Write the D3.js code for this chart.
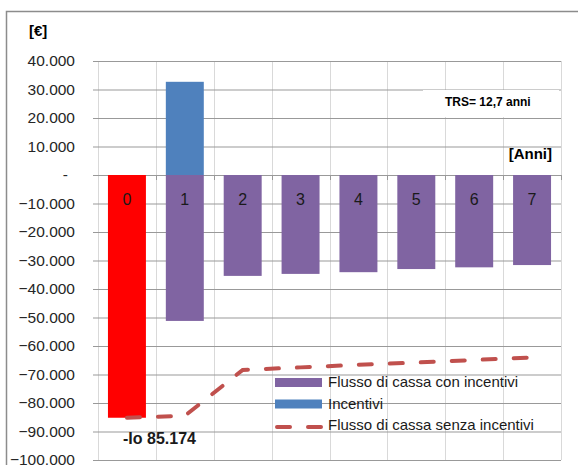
<!DOCTYPE html>
<html>
<head>
<meta charset="utf-8">
<script src="https://cdn.jsdelivr.net/npm/d3@7/dist/d3.min.js"></script>
<style>
  html, body { margin: 0; padding: 0; background: #fff; }
  svg { display: block; font-family: "Liberation Sans", Arial, sans-serif; }
</style>
</head>
<body>
<svg id="chart" width="578" height="465"></svg>
<script>
// Anni di esercizio
const categories = ["0", "1", "2", "3", "4", "5", "6", "7"];
// Flusso di cassa con incentivi (anno 0 = investimento iniziale Io)
const flussoConIncentivi = [-85174, -51200, -35400, -34700, -34100, -33000, -32400, -31600];
// Incentivi ricevuti
const incentivi = [0, 32700, 0, 0, 0, 0, 0, 0];
// Flusso di cassa cumulato senza incentivi
const flussoSenzaIncentivi = [-85174, -84500, -68400, -67500, -66600, -65800, -64900, -64000];
// Tick dell'asse verticale
const yTicks = [40000, 30000, 20000, 10000, 0, -10000, -20000, -30000, -40000, -50000,
                -60000, -70000, -80000, -90000, -100000];
const legendLabels = ["Flusso di cassa con incentivi", "Incentivi", "Flusso di cassa senza incentivi"];

const colInvest = "#FF0000", colFlusso = "#8064A2", colIncent = "#4F81BD", colLine = "#C0504D";

const svg = d3.select("#chart");
svg.append("rect").attr("width", 578).attr("height", 465).attr("fill", "#fff");

// Cornice del grafico
svg.append("path")
  .attr("d", "M6.5,465 V11.5 H578")
  .attr("fill", "none").attr("stroke", "#8c8c8c").attr("stroke-width", 1.5);

const x = d3.scaleBand().domain(categories).range([98, 561]).paddingInner(0.344).paddingOuter(0.172);
const y = d3.scaleLinear().domain([-100000, 40000]).range([460, 61]);

const it = d3.formatLocale({ decimal: ",", thousands: ".", grouping: [3], currency: ["€", ""] });
const fmt = it.format(",d");

// Griglia verticale ai confini delle categorie
const x0 = x.range()[0], step = x.step();
const gridX = d3.range(0, categories.length + 1).map(k => x0 + k * step);
svg.append("g").selectAll("line").data(gridX).join("line")
  .attr("x1", d => Math.round(d) + 0.5).attr("x2", d => Math.round(d) + 0.5)
  .attr("y1", y(40000)).attr("y2", y(-100000))
  .attr("stroke", "#d9d9d9").attr("stroke-width", 1);

// Asse y con griglia orizzontale
const yAxis = d3.axisLeft(y).tickValues(yTicks).tickSize(5).tickPadding(18)
  .tickFormat(d => d === 0 ? "-" : fmt(d));
const gy = svg.append("g").attr("transform", `translate(${x0},0)`).call(yAxis);
gy.select(".domain").attr("stroke", "#d9d9d9");
gy.selectAll(".tick line").attr("stroke", "#999");
gy.selectAll(".tick").append("line")
  .attr("x1", 0).attr("x2", 463).attr("stroke", "#999");
gy.selectAll(".tick text")
  .attr("font-size", 15.5).attr("fill", "#262626")
  .attr("font-family", "\"Liberation Sans\", Arial, sans-serif")
  .attr("dx", d => d === 0 ? -7 : 0);

// Tacche sull'asse zero
svg.append("g").selectAll("line").data(gridX.slice(1)).join("line")
  .attr("x1", d => Math.round(d) + 0.5).attr("x2", d => Math.round(d) + 0.5)
  .attr("y1", y(0)).attr("y2", y(0) + 5).attr("stroke", "#999");

// Riquadro del tempo di ritorno
svg.append("rect").attr("x", 423).attr("y", 90).attr("width", 136).attr("height", 27).attr("fill", "#fff");
svg.append("text").attr("x", 445).attr("y", 106)
  .attr("font-size", 12).attr("font-weight", "bold").attr("fill", "#000")
  .text("TRS= 12,7 anni");

// Barre del flusso con incentivi
svg.append("g").selectAll("rect").data(flussoConIncentivi).join("rect")
  .attr("x", (d, i) => x(categories[i]))
  .attr("width", x.bandwidth())
  .attr("y", d => y(Math.max(0, d)))
  .attr("height", d => Math.abs(y(d) - y(0)))
  .attr("fill", (d, i) => i === 0 ? colInvest : colFlusso);

// Barre degli incentivi
svg.append("g").selectAll("rect").data(incentivi).join("rect")
  .attr("x", (d, i) => x(categories[i]))
  .attr("width", x.bandwidth())
  .attr("y", d => y(d))
  .attr("height", d => y(0) - y(d))
  .attr("fill", colIncent);

// Etichette degli anni dentro le barre
svg.append("g").selectAll("text").data(categories).join("text")
  .attr("x", d => x(d) + x.bandwidth() / 2)
  .attr("y", y(0) + 30)
  .attr("text-anchor", "middle")
  .attr("font-size", 16).attr("fill", "#1a1a1a")
  .text(d => d);

// Linea del flusso senza incentivi
const line = d3.line()
  .x((d, i) => x(categories[i]) + x.bandwidth() / 2)
  .y(d => y(d));
svg.append("path").datum(flussoSenzaIncentivi)
  .attr("d", line)
  .attr("fill", "none").attr("stroke", colLine)
  .attr("stroke-width", 4).attr("stroke-linecap", "round")
  .attr("stroke-dasharray", "13,18");

// Etichette testuali
svg.append("text").attr("x", 29).attr("y", 36)
  .attr("font-size", 15).attr("font-weight", "bold").text("[€]");
svg.append("text").attr("x", 552).attr("y", 159).attr("text-anchor", "end")
  .attr("font-size", 15).attr("font-weight", "bold").text("[Anni]");
svg.append("text").attr("x", 123).attr("y", 444)
  .attr("font-size", 16).attr("font-weight", "bold").attr("fill", "#1a1a1a")
  .text("-Io " + fmt(-flussoConIncentivi[0]));

// Legenda
const lg = svg.append("g").attr("transform", "translate(275,378)");
const legendRows = lg.selectAll("g").data(legendLabels).join("g")
  .attr("transform", (d, i) => `translate(0,${i * 21.5})`);
legendRows.each(function (d, i) {
  const g = d3.select(this);
  if (i < 2) {
    g.append("rect").attr("x", 0).attr("y", 0).attr("width", 47).attr("height", 9)
      .attr("fill", i === 0 ? colFlusso : colIncent);
  } else {
    g.append("line").attr("x1", 2).attr("x2", 47).attr("y1", 6).attr("y2", 6)
      .attr("stroke", colLine).attr("stroke-width", 4).attr("stroke-linecap", "round")
      .attr("stroke-dasharray", "13,18");
  }
  g.append("text").attr("x", 53).attr("y", 9)
    .attr("font-size", 15).attr("fill", "#1a1a1a").text(d);
});
</script>
</body>
</html>
